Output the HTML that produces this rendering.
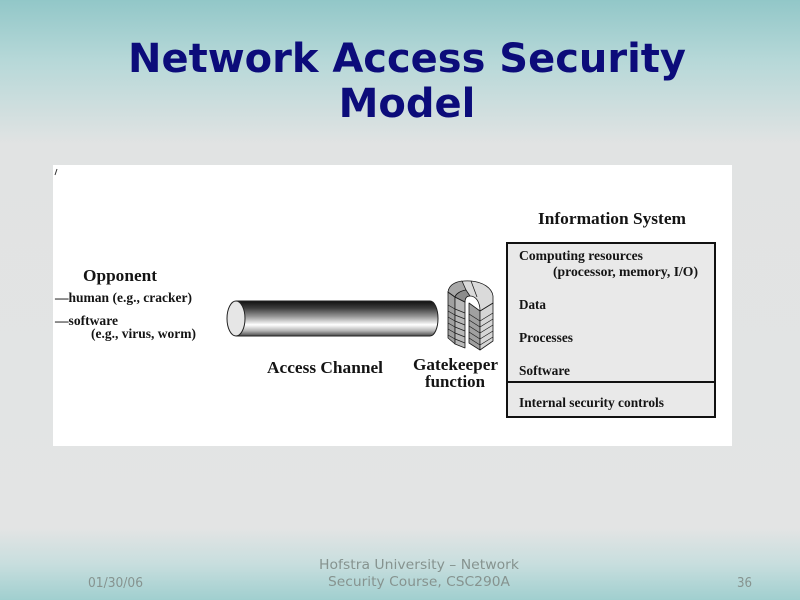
<!DOCTYPE html>
<html>
<head>
<meta charset="utf-8">
<style>
  html, body { margin: 0; padding: 0; }
  body { width: 800px; height: 600px; overflow: hidden; }
  svg { display: block; }
  .ser { font-family: "Liberation Serif", "DejaVu Serif", serif; font-weight: bold; fill: #141414; }
  .ttl { font-family: "DejaVu Sans", "Liberation Sans", sans-serif; font-weight: bold; fill: #0c0c7a; font-size: 40px; }
  .ft { font-family: "DejaVu Sans Condensed", "DejaVu Sans", "Liberation Sans", sans-serif; font-stretch: condensed; fill: #86938f; font-size: 13.5px; }
</style>
</head>
<body>
<svg width="800" height="600" viewBox="0 0 800 600" xmlns="http://www.w3.org/2000/svg">
  <defs>
    <linearGradient id="bg" x1="0" y1="0" x2="0" y2="1">
      <stop offset="0" stop-color="#92c7c8"/>
      <stop offset="0.1" stop-color="#b6d8d8"/>
      <stop offset="0.24" stop-color="#e1e3e3"/>
      <stop offset="0.88" stop-color="#e3e4e4"/>
      <stop offset="0.94" stop-color="#c8dede"/>
      <stop offset="1" stop-color="#a0cfcf"/>
    </linearGradient>
    <linearGradient id="cyl" x1="0" y1="0" x2="0" y2="1">
      <stop offset="0" stop-color="#111"/>
      <stop offset="0.2" stop-color="#3c3c3c"/>
      <stop offset="0.45" stop-color="#9a9a9a"/>
      <stop offset="0.68" stop-color="#ffffff"/>
      <stop offset="0.85" stop-color="#b5b5b5"/>
      <stop offset="1" stop-color="#4a4a4a"/>
    </linearGradient>
  </defs>

  <!-- slide background -->
  <rect x="0" y="0" width="800" height="600" fill="url(#bg)"/>

  <!-- title -->
  <text class="ttl" x="407" y="72" text-anchor="middle" textLength="558" lengthAdjust="spacingAndGlyphs">Network Access Security</text>
  <text class="ttl" x="407" y="117" text-anchor="middle">Model</text>

  <!-- diagram panel -->
  <rect x="53" y="165" width="679" height="281" fill="#ffffff"/>
  <line x1="57" y1="169" x2="55" y2="175" stroke="#333" stroke-width="1"/>

  <!-- Opponent -->
  <text class="ser" x="83" y="281" font-size="17" textLength="74" lengthAdjust="spacingAndGlyphs">Opponent</text>
  <text class="ser" x="55" y="302" font-size="13.5" textLength="137" lengthAdjust="spacingAndGlyphs">—human (e.g., cracker)</text>
  <text class="ser" x="55" y="325" font-size="13.5" textLength="63" lengthAdjust="spacingAndGlyphs">—software</text>
  <text class="ser" x="91" y="338" font-size="13.5" textLength="105" lengthAdjust="spacingAndGlyphs">(e.g., virus, worm)</text>

  <!-- cylinder (access channel) -->
  <rect x="236" y="301" width="194" height="35" fill="url(#cyl)"/>
  <ellipse cx="430" cy="318.5" rx="8" ry="17.5" fill="url(#cyl)"/>
  <path d="M236,301 L430,301 A8,17.5 0 0 1 430,336 L236,336" fill="none" stroke="#222" stroke-width="1"/>
  <ellipse cx="236" cy="318.5" rx="9" ry="17.5" fill="#e6e6e6" stroke="#222" stroke-width="1"/>

  <text class="ser" x="267" y="373" font-size="17" textLength="116" lengthAdjust="spacingAndGlyphs">Access Channel</text>

  <!-- gatekeeper arch -->
  <g stroke="#1a1a1a" stroke-width="0.8" stroke-linejoin="round">
    <polygon points="448,292 455,297 455,344 448,338" fill="#a0a0a0"/>
    <polygon points="455,297 465,302 465,348 455,344" fill="#b8b8b8"/>
    <polygon points="469,303 480,311 480,350 469,343" fill="#a0a0a0"/>
    <polygon points="480,311 493,303 493,341 480,350" fill="#d6d6d6"/>
    <path d="M448,292 C449,284 459,280 471,281 C483,282 492,288 493,296 L493,303 L480,311 C480,302 476,296 470,296 C466,296 465,299 465,302 L455,297 Z" fill="#dadada"/>
    <path d="M448,292 C449,285 455,282 462,281 L466,290 C460,291 456,294 455,297 Z" fill="#a8a8a8"/>
    <path d="M455,297 C456,294 460,291 466,290 L470,296 C466,296 465,299 465,302 Z" fill="#8c8c8c"/>
    <line x1="471" y1="281" x2="477" y2="297"/>
  </g>
  <g stroke="#1a1a1a" stroke-width="0.7">
    <line x1="448" y1="305" x2="455" y2="309"/><line x1="455" y1="309" x2="465" y2="313"/>
    <line x1="448" y1="311" x2="455" y2="315"/><line x1="455" y1="315" x2="465" y2="319"/>
    <line x1="448" y1="317" x2="455" y2="321"/><line x1="455" y1="321" x2="465" y2="325"/>
    <line x1="448" y1="323" x2="455" y2="327"/><line x1="455" y1="327" x2="465" y2="331"/>
    <line x1="448" y1="329" x2="455" y2="333"/><line x1="455" y1="333" x2="465" y2="337"/>
    <line x1="448" y1="335" x2="455" y2="339"/><line x1="455" y1="339" x2="465" y2="343"/>
    <line x1="469" y1="314" x2="480" y2="321"/><line x1="480" y1="321" x2="493" y2="313"/>
    <line x1="469" y1="320" x2="480" y2="327"/><line x1="480" y1="327" x2="493" y2="319"/>
    <line x1="469" y1="326" x2="480" y2="333"/><line x1="480" y1="333" x2="493" y2="325"/>
    <line x1="469" y1="332" x2="480" y2="339"/><line x1="480" y1="339" x2="493" y2="331"/>
    <line x1="469" y1="338" x2="480" y2="345"/><line x1="480" y1="345" x2="493" y2="337"/>
  </g>

  <text class="ser" x="455.5" y="370" font-size="17" text-anchor="middle" textLength="85" lengthAdjust="spacingAndGlyphs">Gatekeeper</text>
  <text class="ser" x="455" y="387" font-size="17" text-anchor="middle" textLength="60" lengthAdjust="spacingAndGlyphs">function</text>

  <!-- information system -->
  <text class="ser" x="538" y="224" font-size="17" textLength="148" lengthAdjust="spacingAndGlyphs">Information System</text>
  <rect x="507" y="243" width="208" height="174" fill="#e9e9e9" stroke="#111" stroke-width="2"/>
  <line x1="507" y1="382" x2="715" y2="382" stroke="#111" stroke-width="2"/>

  <text class="ser" x="519" y="260" font-size="13.5" textLength="124" lengthAdjust="spacingAndGlyphs">Computing resources</text>
  <text class="ser" x="553" y="276" font-size="13.5" textLength="145" lengthAdjust="spacingAndGlyphs">(processor, memory, I/O)</text>
  <text class="ser" x="519" y="309" font-size="13.5" textLength="27" lengthAdjust="spacingAndGlyphs">Data</text>
  <text class="ser" x="519" y="342" font-size="13.5" textLength="54" lengthAdjust="spacingAndGlyphs">Processes</text>
  <text class="ser" x="519" y="375" font-size="13.5" textLength="51" lengthAdjust="spacingAndGlyphs">Software</text>
  <text class="ser" x="519" y="407" font-size="13.5" textLength="145" lengthAdjust="spacingAndGlyphs">Internal security controls</text>

  <!-- footer -->
  <text class="ft" x="88" y="587" textLength="55" lengthAdjust="spacingAndGlyphs">01/30/06</text>
  <text class="ft" x="419" y="569" text-anchor="middle" textLength="200" lengthAdjust="spacingAndGlyphs">Hofstra University – Network</text>
  <text class="ft" x="419" y="586" text-anchor="middle" textLength="182" lengthAdjust="spacingAndGlyphs">Security Course, CSC290A</text>
  <text class="ft" x="737" y="587" textLength="15" lengthAdjust="spacingAndGlyphs">36</text>
</svg>
</body>
</html>
